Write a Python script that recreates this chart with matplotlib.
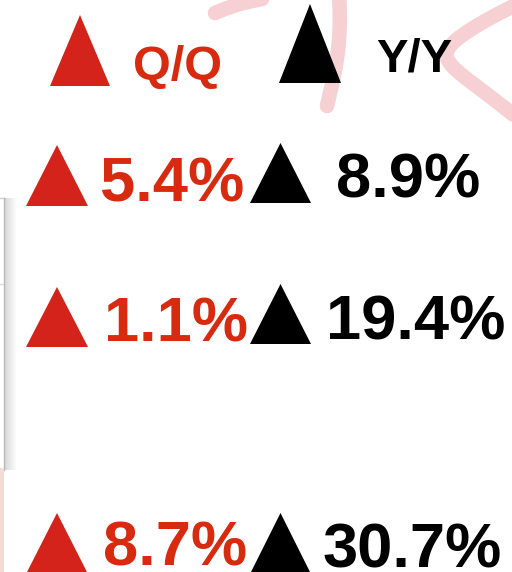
import numpy as np
import matplotlib
matplotlib.use("Agg")
import matplotlib.pyplot as plt
from matplotlib.patches import Polygon

plt.rcParams["font.family"] = ["Liberation Sans", "DejaVu Sans"]

# data
headers = ["Q/Q", "Y/Y"]
qq_change = ["5.4%", "1.1%", "8.7%"]
yy_change = ["8.9%", "19.4%", "30.7%"]

red = "#d4231a"
red_txt = "#d82a0e"
pink = "#f7d0d4"

fig = plt.figure(figsize=(5.12, 5.72), dpi=100)
ax = fig.add_axes([0, 0, 1, 1])
ax.set_xlim(0, 512)
ax.set_ylim(572, 0)
ax.axis("off")

# pink pen strokes in background
strokes = [
    [(215, 13), (240, 4), (262, -1), (290, -7)],
    [(339, -5), (339, 40), (334, 75), (327, 106)],
    [(522, 2), (470, 30), (447, 52), (462, 75), (522, 122)],
]
for pts in strokes:
    xs, ys = zip(*pts)
    t = np.linspace(0, 1, len(pts))
    tt = np.linspace(0, 1, 60)
    cx = np.polyval(np.polyfit(t, xs, len(pts) - 1), tt)
    cy = np.polyval(np.polyfit(t, ys, len(pts) - 1), tt)
    ax.plot(cx, cy, color=pink, lw=10.5, solid_capstyle="round", zorder=0)

# left panel edge with soft shadow
grad = np.linspace(0.80, 1.0, 64)[None, :] ** 0.8
ax.imshow(np.repeat(grad, 2, axis=0), cmap="gray", vmin=0, vmax=1,
          extent=[4, 17, 470, 198], aspect="auto", zorder=1)
ax.plot([0, 5], [198, 198], color="#d0d0d0", lw=1, zorder=2)
ax.plot([3.5, 3.5], [198, 470], color="#b8b8b8", lw=1.0, zorder=2)
ax.plot([0, 3], [284, 284], color="#d8d8d8", lw=1, zorder=2)
ax.plot([1.5, 1.5], [470, 572], color="#f3dcd4", lw=3, zorder=2)


def tri(x0, x1, y_top, y_bot, color):
    ax.add_patch(Polygon([(x0, y_bot), ((x0 + x1) / 2, y_top), (x1, y_bot)],
                         closed=True, color=color, lw=0, zorder=3))


# header
tri(50, 110, 15, 86, red)
ax.text(133, 80, headers[0], color=red_txt, fontsize=35, fontweight="bold",
        ha="left", va="baseline", zorder=4)
tri(279, 341, 4, 83, "black")
ax.text(376, 71, headers[1], color="black", fontsize=34, fontweight="bold",
        ha="left", va="baseline", zorder=4)

# rows
red_tri = [(145, 206), (287, 347), (513, 574)]
blk_tri = [(143, 203), (284, 344), (513, 574)]
qq_x = [100, 104, 103]
qq_base = [202, 342, 565]
yy_x = [336, 326, 323]
yy_base = [198, 340, 568]
for i in range(3):
    tri(26, 88, red_tri[i][0], red_tri[i][1], red)
    ax.text(qq_x[i], qq_base[i], qq_change[i], color=red_txt, fontsize=45.5,
            fontweight="bold", ha="left", va="baseline", zorder=4)
    tri(250, 311, blk_tri[i][0], blk_tri[i][1], "black")
    ax.text(yy_x[i], yy_base[i], yy_change[i], color="black", fontsize=45.5,
            fontweight="bold", ha="left", va="baseline", zorder=4)

fig.savefig("out.png", dpi=100)
